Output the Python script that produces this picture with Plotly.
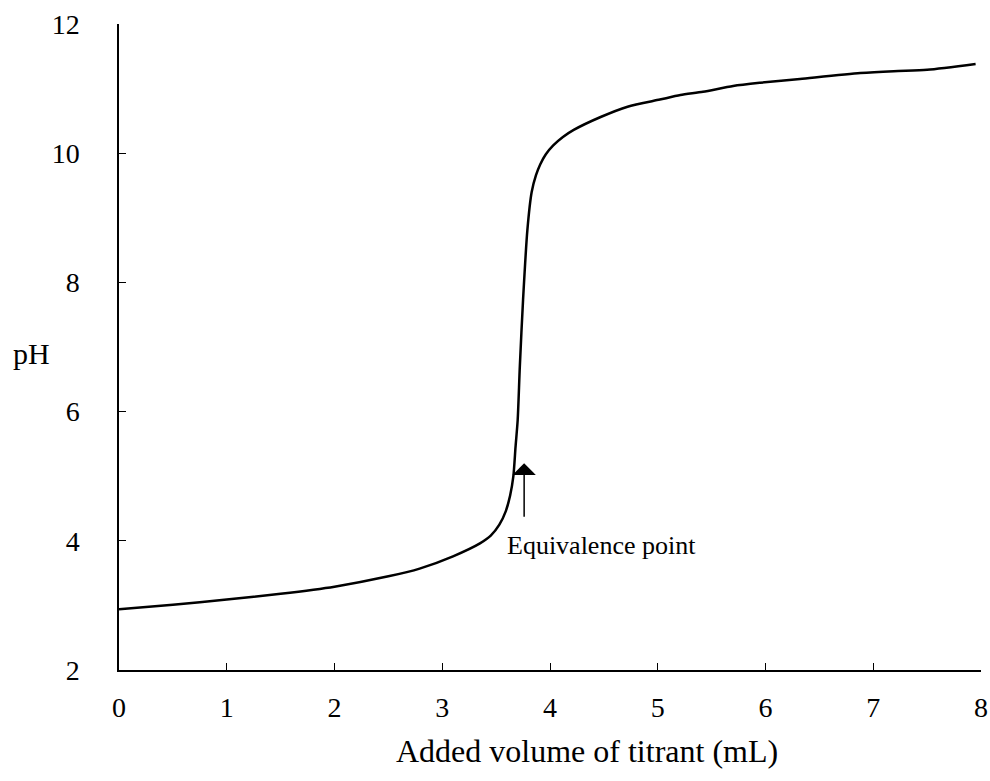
import plotly.graph_objects as go

volume_ml = [0.0, 0.5, 1.0, 1.5, 2.0, 2.5, 2.79, 3.10, 3.35, 3.45, 3.53, 3.59, 3.63, 3.66,
             3.68, 3.70, 3.72, 3.75, 3.79, 3.83, 3.87, 3.91, 3.96, 4.03, 4.12, 4.22, 4.47,
             4.72, 5.02, 5.21, 5.42, 5.70, 5.95, 6.32, 6.88, 7.19, 7.50, 7.95]
ph_values = [2.94, 3.01, 3.09, 3.18, 3.29, 3.45, 3.57, 3.76, 3.96, 4.08, 4.25, 4.46, 4.70, 5.00,
             5.45, 5.87, 6.70, 7.73, 8.81, 9.40, 9.66, 9.83, 9.98, 10.12, 10.25, 10.36, 10.56,
             10.72, 10.83, 10.90, 10.95, 11.04, 11.09, 11.15, 11.24, 11.27, 11.29, 11.38]
x_ticks = [0, 1, 2, 3, 4, 5, 6, 7, 8]
y_ticks = [2, 4, 6, 8, 10, 12]
equiv_tip = (3.76, 5.2)
equiv_tail = (3.76, 4.35)

FONT = "Liberation Serif"

fig = go.Figure()
fig.add_trace(go.Scatter(x=volume_ml, y=ph_values, mode="lines",
                         line=dict(color="black", width=2.5, shape="spline", smoothing=0.7),
                         showlegend=False, hoverinfo="skip"))

fig.add_annotation(x=equiv_tip[0], y=equiv_tip[1], ax=equiv_tail[0], ay=equiv_tail[1],
                   xref="x", yref="y", axref="x", ayref="y", text="",
                   showarrow=True, arrowhead=1, arrowsize=2.6, arrowwidth=1.5, arrowcolor="black")
fig.add_annotation(x=3.58, y=3.93, xref="x", yref="y", text="Equivalence point",
                   showarrow=False, xanchor="left", yanchor="middle",
                   font=dict(family=FONT, size=26, color="black"))
fig.add_annotation(x=0.543, y=-0.125, xref="paper", yref="paper",
                   text="Added volume of titrant (mL)", showarrow=False,
                   xanchor="center", yanchor="middle",
                   font=dict(family=FONT, size=32, color="black"))
fig.add_annotation(x=-0.101, y=0.49, xref="paper", yref="paper",
                   text="pH", showarrow=False, xanchor="center", yanchor="middle",
                   font=dict(family=FONT, size=30, color="black"))

fig.update_xaxes(range=[0, 8], tickvals=x_ticks, ticks="inside", ticklen=7, tickcolor="black",
                 showline=True, linecolor="black", linewidth=1.5, showgrid=False, zeroline=False,
                 automargin=False,
                 tickfont=dict(family=FONT, size=28, color="black"), ticklabelstandoff=12)
fig.update_yaxes(range=[2, 12], tickvals=y_ticks, ticks="inside", ticklen=7, tickcolor="black",
                 showline=True, linecolor="black", linewidth=1.5, showgrid=False, zeroline=False,
                 automargin=False,
                 tickfont=dict(family=FONT, size=28, color="black"), ticklabelstandoff=32)

fig.update_layout(width=990, height=781, margin=dict(l=119, r=9, t=24, b=111),
                  plot_bgcolor="white", paper_bgcolor="white")

fig.write_html("out.html", config={"displayModeBar": False},
               post_script="document.body.style.margin='0';document.body.style.overflow='hidden';")
